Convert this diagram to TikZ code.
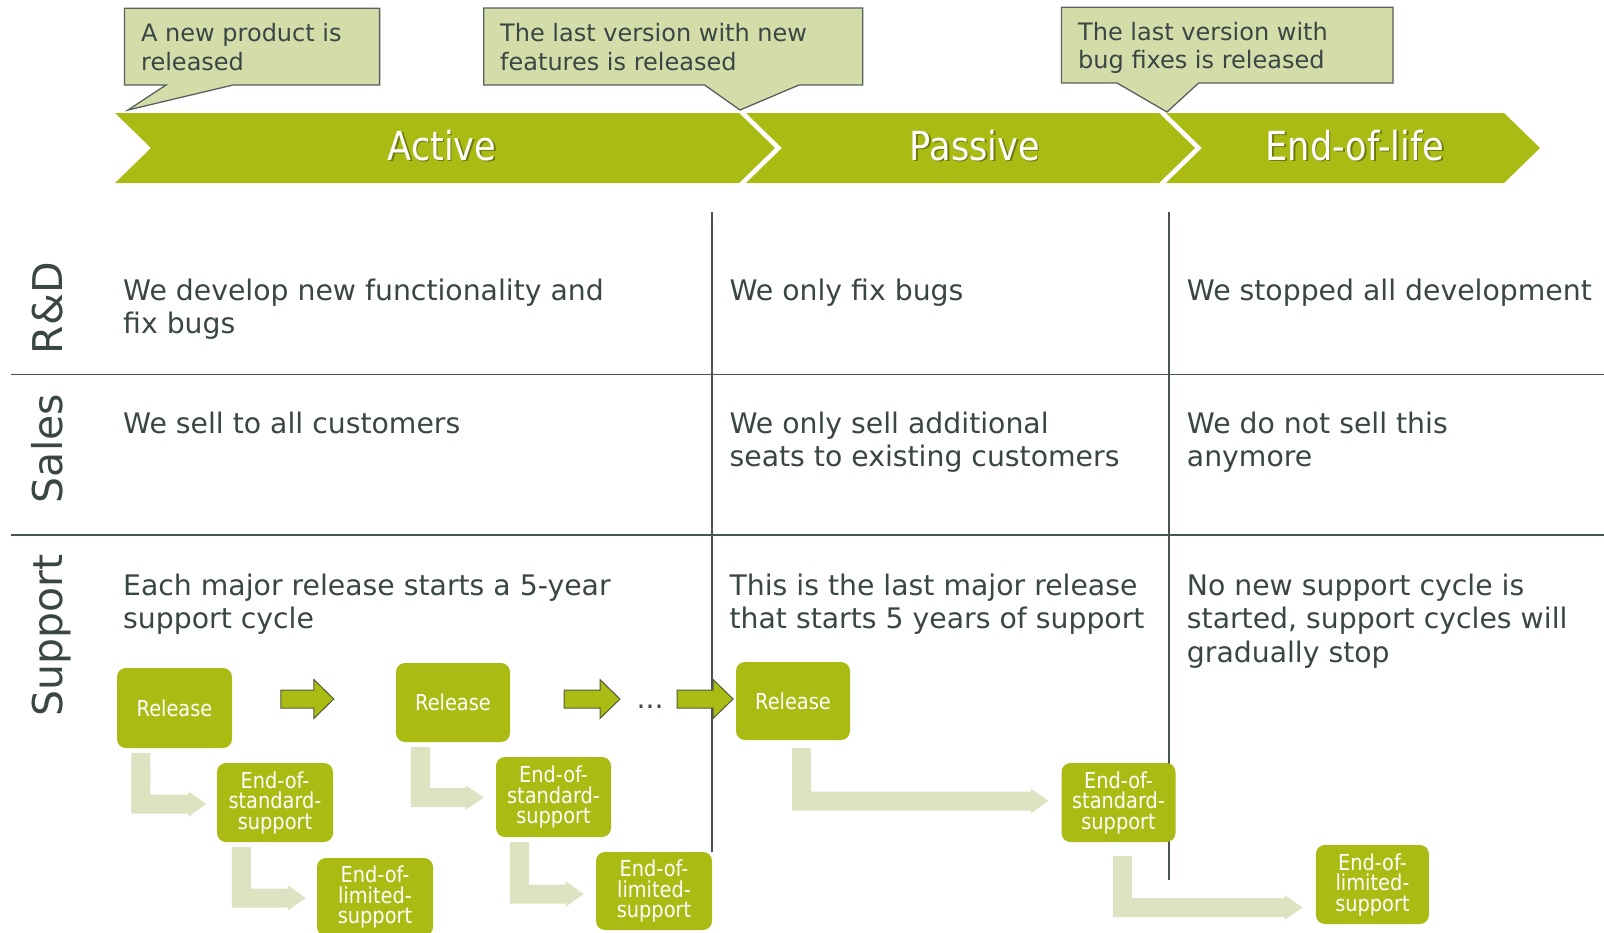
\documentclass[tikz,border=0pt]{standalone}
\usepackage{fontspec}
\setmainfont{DejaVu Sans}
\newfontfamily\condf[FakeStretch=0.88]{DejaVu Sans}
\usetikzlibrary{calc}
\definecolor{lime}{RGB}{170,188,20}
\definecolor{callfill}{RGB}{212,220,170}
\definecolor{callline}{RGB}{85,98,92}
\definecolor{ink}{RGB}{58,70,68}
\definecolor{gridline}{RGB}{72,84,82}
\definecolor{pale}{RGB}{220,227,193}
\definecolor{arrline}{RGB}{80,92,60}
\tikzset{
  body/.style={font=\fontsize{28.3}{33.7}\selectfont, text=ink, align=left, anchor=base west, inner sep=0},
  rowlab/.style={font=\fontsize{41}{49}\selectfont, text=ink, rotate=90, anchor=base, inner sep=0},
  ctext/.style={font=\fontsize{24}{28.4}\selectfont, text=ink, align=left, anchor=base west, inner sep=0},
  callbox/.style={fill=callfill, draw=callline, line width=1.3},
  chev/.style={fill=lime},
  chevlab/.style={font=\condf\fontsize{40}{48}\selectfont, text=white, anchor=base, inner sep=0},
  chevshadow/.style={chevlab, text=black, text opacity=0.35},
  gbox/.style={fill=lime, rounded corners=9, text=white, font=\condf\fontsize{22}{20.5}\selectfont, align=center, inner sep=0},
  grid/.style={draw=gridline, line width=1.5},
}
\newcommand\elbowarr[2]{%
  \fill[pale] (#1) -- ++(19,0) -- ($(#1 |- #2)+(19,-9.5)$) -- ($(#2)+(-18,-9.5)$) -- ($(#2)+(-18,-12.5)$) -- (#2) -- ($(#2)+(-18,12.5)$) -- ($(#2)+(-18,9.5)$) -- ($(#1 |- #2)+(0,9.5)$) -- cycle;}
\newcommand\blockarr[2]{%
  \filldraw[fill=lime, draw=arrline, line width=1] ($(#1)+(0,-9)$) -- ($(#2)+(-20,-9)$) -- ($(#2)+(-20,-19.5)$) -- (#2) -- ($(#2)+(-20,19.5)$) -- ($(#2)+(-20,9)$) -- ($(#1)+(0,9)$) -- cycle;}
\begin{document}
\begin{tikzpicture}[x=1pt,y=-1pt]
\useasboundingbox (0,0) rectangle (1604,932);
\fill[white] (0,0) rectangle (1604,932);

% callouts
\draw[callbox] (124.5,8.3) -- (379.6,8.3) -- (379.6,85) -- (233,85) -- (128,110) -- (166,85) -- (124.5,85) -- cycle;
\draw[callbox] (483.7,8) -- (862.8,8) -- (862.8,85) -- (799,85) -- (740,110) -- (704.6,85) -- (483.7,85) -- cycle;
\draw[callbox] (1061.5,7.3) -- (1393,7.3) -- (1393,83) -- (1198.6,83) -- (1167,112) -- (1117,83) -- (1061.5,83) -- cycle;
% (base anchor = baseline of last line)
\node[ctext] (ct1) at (141,70.1) {A new product is\\released};
\node[ctext] (ct2) at (500,70.1) {The last version with new\\features is released};
\node[ctext] (ct3) at (1078,68.4) {The last version with\\bug fixes is released};

% chevrons
\fill[chev] (115,113) -- (739,113) -- (775,148) -- (739,183) -- (115,183) -- (151,148) -- cycle;
\fill[chev] (746,113) -- (1159,113) -- (1195,148) -- (1159,183) -- (746,183) -- (782,148) -- cycle;
\fill[chev] (1166,113) -- (1504,113) -- (1540,148) -- (1504,183) -- (1166,183) -- (1202,148) -- cycle;
\node[chevshadow] (la1s) at (443.5,161.5) {Active};
\node[chevlab] (la1) at (442,160) {Active};
\node[chevshadow] (la2s) at (976.5,161.5) {Passive};
\node[chevlab] (la2) at (975,160) {Passive};
\node[chevshadow] (la3s) at (1356.5,161.5) {End-of-life};
\node[chevlab] (la3) at (1355,160) {End-of-life};

% grid
\draw[grid] (11,374.5) -- (1604,374.5);
\draw[grid] (11,535) -- (1604,535);
\draw[grid] (712,212) -- (712,852);
\draw[grid] (1169,212) -- (1169,880);

% row labels
\node[rowlab] (rl1) at (62.5,308) {R\&D};
\node[rowlab] (rl2) at (62.5,448.5) {Sales};
\node[rowlab] (rl3) at (62.5,635.5) {Support};

% body texts (base anchor = baseline of last line)
\node[body] (t11) at (123,333.7) {We develop new functionality and\\fix bugs};
\node[body] (t12) at (729.4,300) {We only fix bugs};
\node[body] (t13) at (1186.7,300) {We stopped all development};
\node[body] (t21) at (123,433) {We sell to all customers};
\node[body] (t22) at (729.4,466.7) {We only sell additional\\seats to existing customers};
\node[body] (t23) at (1186.7,466.7) {We do not sell this\\anymore};
\node[body] (t31) at (123,628.7) {Each major release starts a 5-year\\support cycle};
\node[body] (t32) at (729.4,628.7) {This is the last major release\\that starts 5 years of support};
\node[body] (t33) at (1186.7,662.4) {No new support cycle is\\started, support cycles will\\gradually stop};

% green boxes
\node[gbox, minimum width=115, minimum height=80] (r1) at (174.5,708) {Release};
\node[gbox, minimum width=114, minimum height=79] (r2) at (453,702.5) {Release};
\node[gbox, minimum width=114, minimum height=78] (r3) at (793,701) {Release};
\node[gbox, minimum width=116, minimum height=79] (s1) at (275,802.5) {End-of-\\standard-\\support};
\node[gbox, minimum width=116, minimum height=78] (l1) at (375,897) {End-of-\\limited-\\support};
\node[gbox, minimum width=115, minimum height=80] (s2) at (553.5,797) {End-of-\\standard-\\support};
\node[gbox, minimum width=116, minimum height=78] (l2) at (654,891) {End-of-\\limited-\\support};
\node[gbox, minimum width=114, minimum height=79] (s3) at (1118.5,802.5) {End-of-\\standard-\\support};
\node[gbox, minimum width=113, minimum height=79] (l3) at (1372.4,884.5) {End-of-\\limited-\\support};

% block arrows between releases
\coordinate (b1a) at ($(r1.east)+(48.6,-9)$);
\coordinate (b1b) at ($(r2.west)+(-62,-3.5)$);
\coordinate (b2a) at ($(r2.east)+(54,-3.5)$);
\coordinate (b2b) at (620,699);
\coordinate (b3a) at (677,699);
\coordinate (b3b) at ($(r3.west)+(-2.7,-2)$);
\blockarr{b1a}{b1b}
\blockarr{b2a}{b2b}
\blockarr{b3a}{b3b}
\node[body, anchor=base] (dots) at (650,708) {...};

% elbow arrows
\coordinate (e1a) at ($(r1.south west)+(14.6,5)$);
\coordinate (e1b) at ($(s1.west)+(-10.4,1.5)$);
\coordinate (e2a) at ($(s1.south west)+(15,5)$);
\coordinate (e2b) at ($(l1.west)+(-11,1)$);
\coordinate (e3a) at ($(r2.south west)+(15,5)$);
\coordinate (e3b) at ($(s2.west)+(-12.3,0.5)$);
\coordinate (e4a) at ($(s2.south west)+(14,5)$);
\coordinate (e4b) at ($(l2.west)+(-12,3)$);
\coordinate (e5a) at ($(r3.south west)+(56.3,8)$);
\coordinate (e5b) at ($(s3.west)+(-12.7,-1.5)$);
\coordinate (e6a) at ($(s3.south west)+(51.5,14)$);
\coordinate (e6b) at ($(l3.west)+(-13.2,23)$);
\elbowarr{e1a}{e1b}
\elbowarr{e2a}{e2b}
\elbowarr{e3a}{e3b}
\elbowarr{e4a}{e4b}
\elbowarr{e5a}{e5b}
\elbowarr{e6a}{e6b}
\end{tikzpicture}
\end{document}
